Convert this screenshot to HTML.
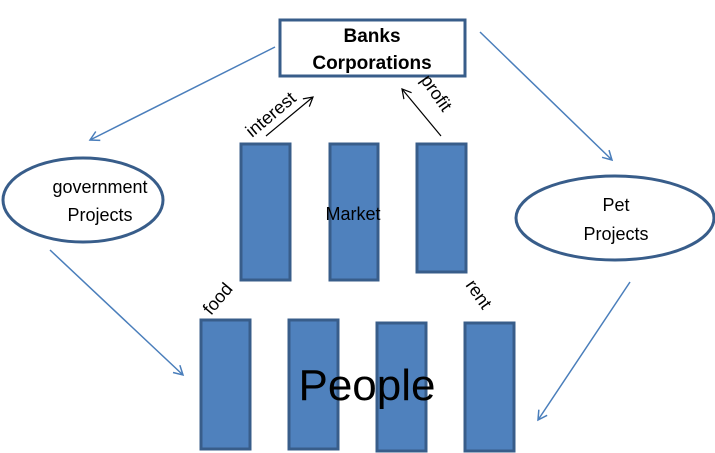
<!DOCTYPE html>
<html><head><style>body{margin:0;background:#fff}svg{display:block}</style></head><body>
<svg width="715" height="453" viewBox="0 0 715 453" xmlns="http://www.w3.org/2000/svg" font-family="Liberation Sans, sans-serif">
<defs>
<marker id="b" markerWidth="12" markerHeight="12" refX="10" refY="6" orient="auto" markerUnits="userSpaceOnUse"><path d="M1,1 L10,6 L1,11" fill="none" stroke="#4a7ebb" stroke-width="1.5"/></marker>
<marker id="k" markerWidth="12" markerHeight="12" refX="10" refY="6" orient="auto" markerUnits="userSpaceOnUse"><path d="M1,1 L10,6 L1,11" fill="none" stroke="#000" stroke-width="1.2"/></marker>
</defs>
<g stroke="#4a7ebb" stroke-width="1.5" fill="none" marker-end="url(#b)">
<line x1="275" y1="47" x2="90" y2="140"/>
<line x1="480" y1="32" x2="612" y2="160"/>
<line x1="50" y1="250" x2="183" y2="375"/>
<line x1="630" y1="282" x2="538" y2="420"/>
</g>
<g stroke="#000" stroke-width="1.2" marker-end="url(#k)">
<line x1="266" y1="136" x2="313" y2="97"/>
<line x1="441" y1="136" x2="402" y2="89"/>
</g>
<rect x="280" y="20" width="185" height="56" fill="#fff" stroke="#385d8a" stroke-width="3"/>
<text x="372" y="42" text-anchor="middle" font-size="19" font-weight="bold">Banks</text>
<text x="372" y="69" text-anchor="middle" font-size="19" font-weight="bold">Corporations</text>
<ellipse cx="83" cy="200" rx="80" ry="42" fill="#fff" stroke="#385d8a" stroke-width="3"/>
<text x="100" y="193" text-anchor="middle" font-size="18">government</text>
<text x="100" y="221" text-anchor="middle" font-size="18">Projects</text>
<ellipse cx="615" cy="218" rx="99" ry="42" fill="#fff" stroke="#385d8a" stroke-width="3"/>
<text x="616" y="211" text-anchor="middle" font-size="18">Pet</text>
<text x="616" y="240" text-anchor="middle" font-size="18">Projects</text>
<g fill="#4f81bd" stroke="#385d8a" stroke-width="3">
<rect x="241" y="144" width="49" height="136"/>
<rect x="330" y="144" width="48" height="136"/>
<rect x="417" y="144" width="49" height="128"/>
<rect x="201" y="320" width="49" height="129"/>
<rect x="289" y="320" width="49" height="129"/>
<rect x="377" y="323" width="49" height="128"/>
<rect x="465" y="323" width="49" height="128"/>
</g>
<text x="353" y="220" text-anchor="middle" font-size="18">Market</text>
<text x="367" y="400" text-anchor="middle" font-size="44">People</text>
<text font-size="18" transform="translate(252,138) rotate(-40)">interest</text>
<text font-size="18" transform="translate(420,80) rotate(55)">profit</text>
<text font-size="18" transform="translate(211,316) rotate(-50)">food</text>
<text font-size="18" transform="translate(465,285) rotate(55)">rent</text>
</svg>
</body></html>
